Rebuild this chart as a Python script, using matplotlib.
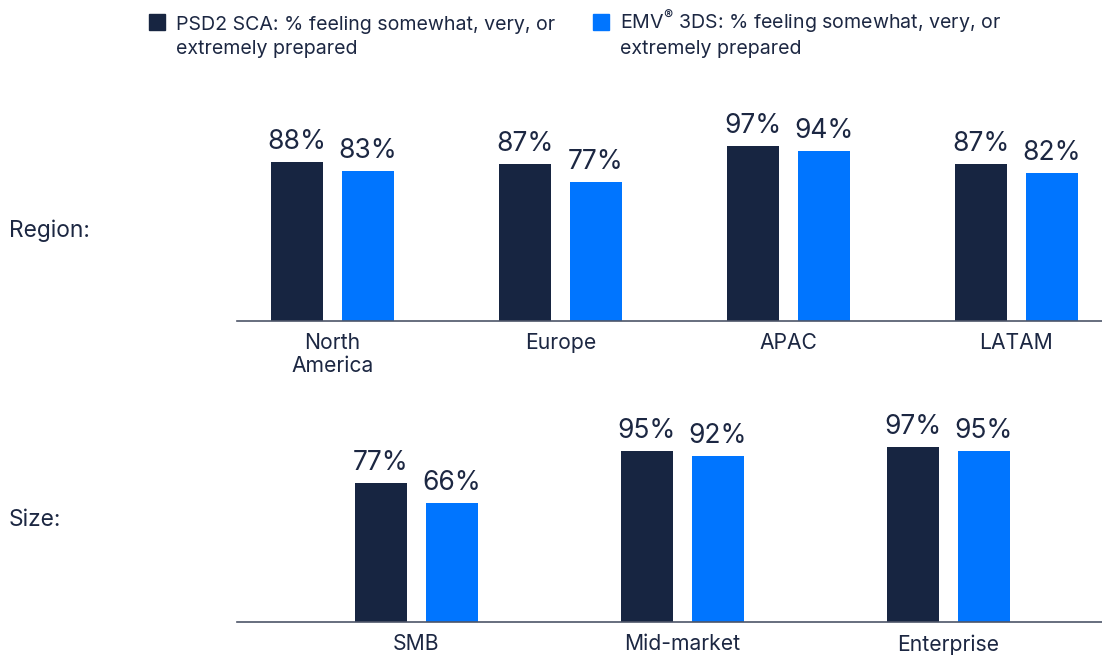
import matplotlib
matplotlib.use("Agg")
import matplotlib.pyplot as plt
from matplotlib.patches import Rectangle
import numpy as np

plt.rcParams['font.family'] = ['Inter', 'DejaVu Sans']
plt.rcParams['mathtext.fontset'] = 'custom'
plt.rcParams['mathtext.rm'] = 'Inter'

# ---- data ----
region_categories = ["North\nAmerica", "Europe", "APAC", "LATAM"]
region_psd2 = [88, 87, 97, 87]
region_emv = [83, 77, 94, 82]

size_categories = ["SMB", "Mid-market", "Enterprise"]
size_psd2 = [77, 95, 97]
size_emv = [66, 92, 95]

legend_lines = [["PSD2 SCA: % feeling somewhat, very, or", "extremely prepared"],
                ["EMV$^{\\mathrm{®}}$ 3DS: % feeling somewhat, very, or", "extremely prepared"]]

DARK = "#172541"
BLUE = "#0075FF"
TEXT = "#1c2742"
AXIS = "#4d5568"

W, H = 1102, 658
fig = plt.figure(figsize=(W / 100, H / 100), dpi=100)


def make_panel(bottom_px, categories, s1, s2, spacing_px, first_center_px):
    ax_left = 237
    ax = fig.add_axes([ax_left / W, bottom_px / H, (W - ax_left) / W, 180 / H])
    x = np.arange(len(categories))
    bw = 52 / spacing_px
    off = 35.5 / spacing_px
    b1 = ax.bar(x - off, s1, width=bw, color=DARK)
    b2 = ax.bar(x + off, s2, width=bw, color=BLUE)
    for bars, vals in ((b1, s1), (b2, s2)):
        ax.bar_label(bars, labels=[f"{v}%" for v in vals], padding=5,
                     fontsize=19, color=TEXT, clip_on=False)
    left = -(first_center_px - ax_left) / spacing_px
    right = left + (W - ax_left) / spacing_px
    ax.set_xlim(left, right)
    ax.set_ylim(0, 100)
    ax.set_xticks(x)
    ax.set_xticklabels(categories, fontsize=15.2, color=TEXT, linespacing=1.2)
    ax.tick_params(axis='x', length=0, pad=9)
    ax.set_yticks([])
    for s in ("top", "left", "right"):
        ax.spines[s].set_visible(False)
    ax.spines["bottom"].set_color(AXIS)
    ax.spines["bottom"].set_linewidth(1.2)
    ax.patch.set_alpha(0)
    return ax


make_panel(H - 320.5, region_categories, region_psd2, region_emv, 228, 332.5)
make_panel(H - 622, size_categories, size_psd2, size_emv, 266, 416.5)

# row titles
fig.text(9 / W, 1 - 236.5 / H, "Region:", fontsize=16.4, color=TEXT, ha="left", va="baseline")
fig.text(9 / W, 1 - 526 / H, "Size:", fontsize=16.4, color=TEXT, ha="left", va="baseline")

# legend
for (sx, tx), lines, col in zip(((149, 176), (593, 620)), legend_lines, (DARK, BLUE)):
    fig.patches.append(Rectangle((sx / W, 1 - 30 / H), 16 / W, 16 / H,
                                 transform=fig.transFigure, color=col))
    for i, ln in enumerate(lines):
        fig.text(tx / W, 1 - (30 + 24 * i) / H, ln, fontsize=14.1, color=TEXT,
                 ha="left", va="baseline")

fig.savefig("out.png", dpi=100)
